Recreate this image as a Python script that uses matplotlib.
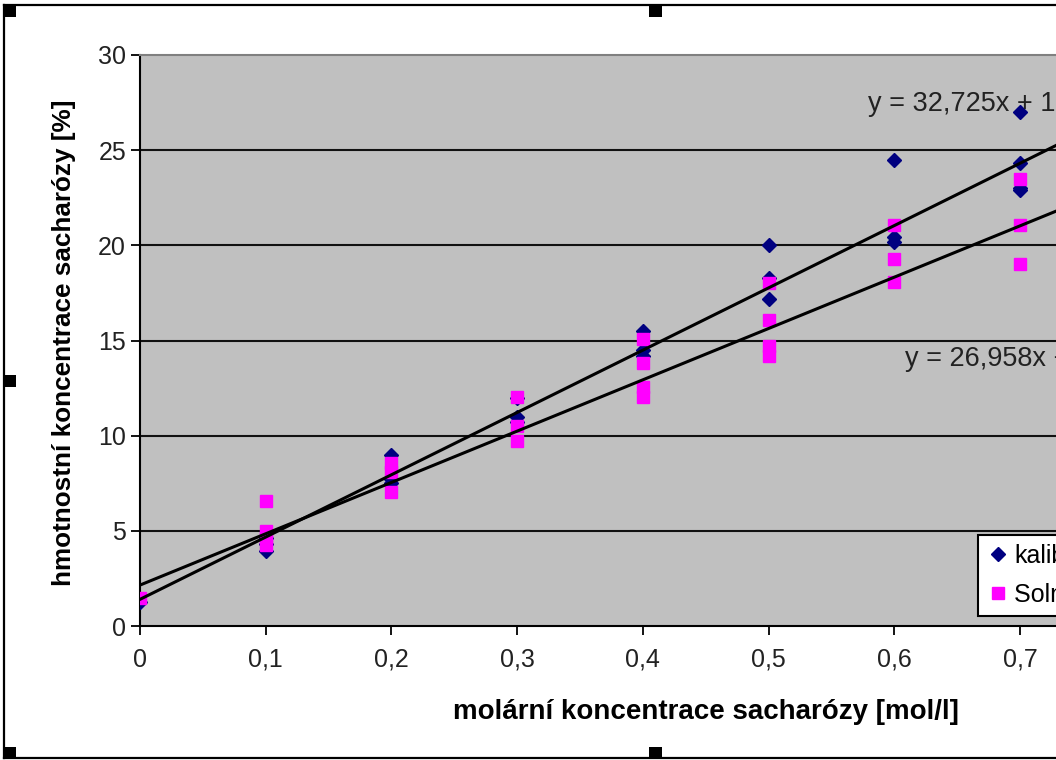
import matplotlib
matplotlib.use("Agg")
import matplotlib.pyplot as plt
import numpy as np
from matplotlib.patches import Rectangle
from matplotlib.lines import Line2D

plt.rcParams['font.family'] = ['Liberation Sans', 'DejaVu Sans']

# ---- data ----
kal_x = [0.0, 0.1, 0.1, 0.1, 0.2, 0.2, 0.2, 0.3, 0.3, 0.3, 0.4, 0.4, 0.4,
         0.5, 0.5, 0.5, 0.6, 0.6, 0.6, 0.7, 0.7, 0.7, 0.7]
kal_y = [1.25, 3.95, 4.3, 4.6, 9.0, 7.7, 7.5, 12.0, 11.0, 10.7, 15.5, 14.5, 14.2,
         20.0, 18.3, 17.2, 24.5, 20.45, 20.2, 27.0, 24.3, 23.0, 22.9]
sol_x = [0.0, 0.1, 0.1, 0.1, 0.1, 0.2, 0.2, 0.2, 0.3, 0.3, 0.3, 0.4, 0.4, 0.4, 0.4,
         0.5, 0.5, 0.5, 0.5, 0.6, 0.6, 0.6, 0.7, 0.7, 0.7]
sol_y = [1.45, 6.55, 5.0, 4.6, 4.25, 8.55, 8.1, 7.05, 12.05, 10.5, 9.7, 15.1, 13.8, 12.55, 12.05,
         18.0, 16.1, 14.7, 14.2, 21.05, 19.3, 18.05, 23.5, 21.05, 19.0]
kal_slope, kal_intercept = 32.725, 1.40
sol_slope, sol_intercept = 26.958, 2.15
kal_eq = "y = 32,725x + 1,3968"
sol_eq = "y = 26,958x + 2,1479"
series_labels = ["kalibrace", "Solný roztok"]
x_ticks = [0, 0.1, 0.2, 0.3, 0.4, 0.5, 0.6, 0.7]
x_tick_labels = ["0", "0,1", "0,2", "0,3", "0,4", "0,5", "0,6", "0,7"]
y_ticks = [0, 5, 10, 15, 20, 25, 30]
y_tick_labels = ["0", "5", "10", "15", "20", "25", "30"]
x_label = "molární koncentrace sacharózy [mol/l]"
y_label = "hmotnostní koncentrace sacharózy [%]"

W, H = 1056, 760
fig = plt.figure(figsize=(W / 100, H / 100), dpi=100)
fig.patch.set_facecolor("white")

def fx(px):
    return px / W

def fy(py):
    return 1 - py / H

# axes: left edge 140px, bottom 626px, 0.1 per 125.7px, top 55px
ax = fig.add_axes([fx(140), fy(626), 1005.6 / W, 571 / H])
ax.set_facecolor("#C0C0C0")
ax.set_xlim(0, 0.8)
ax.set_ylim(0, 30)

ax.plot(kal_x, kal_y, linestyle="none", marker="D", ms=7, color="#000080",
        mec="#000080", zorder=3, label=series_labels[0])
ax.plot(sol_x, sol_y, linestyle="none", marker="s", ms=8.5, color="#FF00FF",
        mec="#FF00FF", zorder=4, label=series_labels[1])

xl = np.array([0.0, 0.8])
ax.plot(xl, kal_slope * xl + kal_intercept, color="black", lw=2.2, zorder=5)
ax.plot(xl, sol_slope * xl + sol_intercept, color="black", lw=2.2, zorder=5)

ax.text((868 - 140) / 1256.7, (626 - 111) / 19.033, kal_eq, fontsize=19.5,
        ha="left", va="baseline", color="#222222", zorder=6)
ax.text((905 - 140) / 1256.7, (626 - 366) / 19.033, sol_eq, fontsize=19.5,
        ha="left", va="baseline", color="#222222", zorder=6)

ax.set_xticks(x_ticks)
ax.set_xticklabels(x_tick_labels)
ax.set_yticks(y_ticks)
ax.set_yticklabels(y_tick_labels)
ax.tick_params(axis="both", direction="out", length=6.5, width=1.3,
               color="black", labelsize=18, labelcolor="#222222")
ax.tick_params(axis="x", pad=9)
ax.tick_params(axis="y", pad=3.5)

ax.yaxis.grid(True, color="#111111", lw=1.5)
ax.set_axisbelow(True)
ygl = ax.get_ygridlines()
ygl[0].set_visible(False)
ygl[-1].set_visible(False)

for s in ["left", "bottom"]:
    ax.spines[s].set_color("black")
    ax.spines[s].set_linewidth(1.5)
ax.spines["top"].set_color("#808080")
ax.spines["top"].set_linewidth(1.5)
ax.spines["right"].set_visible(False)

ax.set_xlabel(x_label, fontsize=20, fontweight="bold")
ax.set_ylabel(y_label, fontsize=18.8, fontweight="bold")
ax.xaxis.label.set_va("center")
ax.yaxis.label.set_va("center")
ax.xaxis.set_label_coords((706 - 140) / 1005.6, (626 - 712) / 571)
ax.yaxis.set_label_coords((64 - 140) / 1005.6, (626 - 343) / 571)

leg = ax.legend(loc="upper left", bbox_to_anchor=(fx(978), fy(535)),
                bbox_transform=fig.transFigure, borderaxespad=0, fontsize=18,
                frameon=True, fancybox=False, framealpha=1, edgecolor="black",
                handlelength=0.9, handletextpad=0.2, labelspacing=0.6,
                borderpad=0.35, numpoints=1)
leg.get_frame().set_linewidth(1.5)
leg.set_zorder(10)

# outer chart frame and selection handles
fig.add_artist(Line2D([fx(4), fx(4)], [fy(5), fy(758)], color="black", lw=1.6))
fig.add_artist(Line2D([fx(4), fx(1060)], [fy(5), fy(5)], color="black", lw=1.6))
fig.add_artist(Line2D([fx(4), fx(1060)], [fy(758), fy(758)], color="black", lw=1.6))
for (hx, hy) in [(3, 5), (649, 5), (3, 375), (3, 747), (649, 747)]:
    fig.add_artist(Rectangle((fx(hx), fy(hy + 12)), 13 / W, 12 / H,
                             transform=fig.transFigure, color="black", lw=0))

fig.savefig("out.png", dpi=100)
